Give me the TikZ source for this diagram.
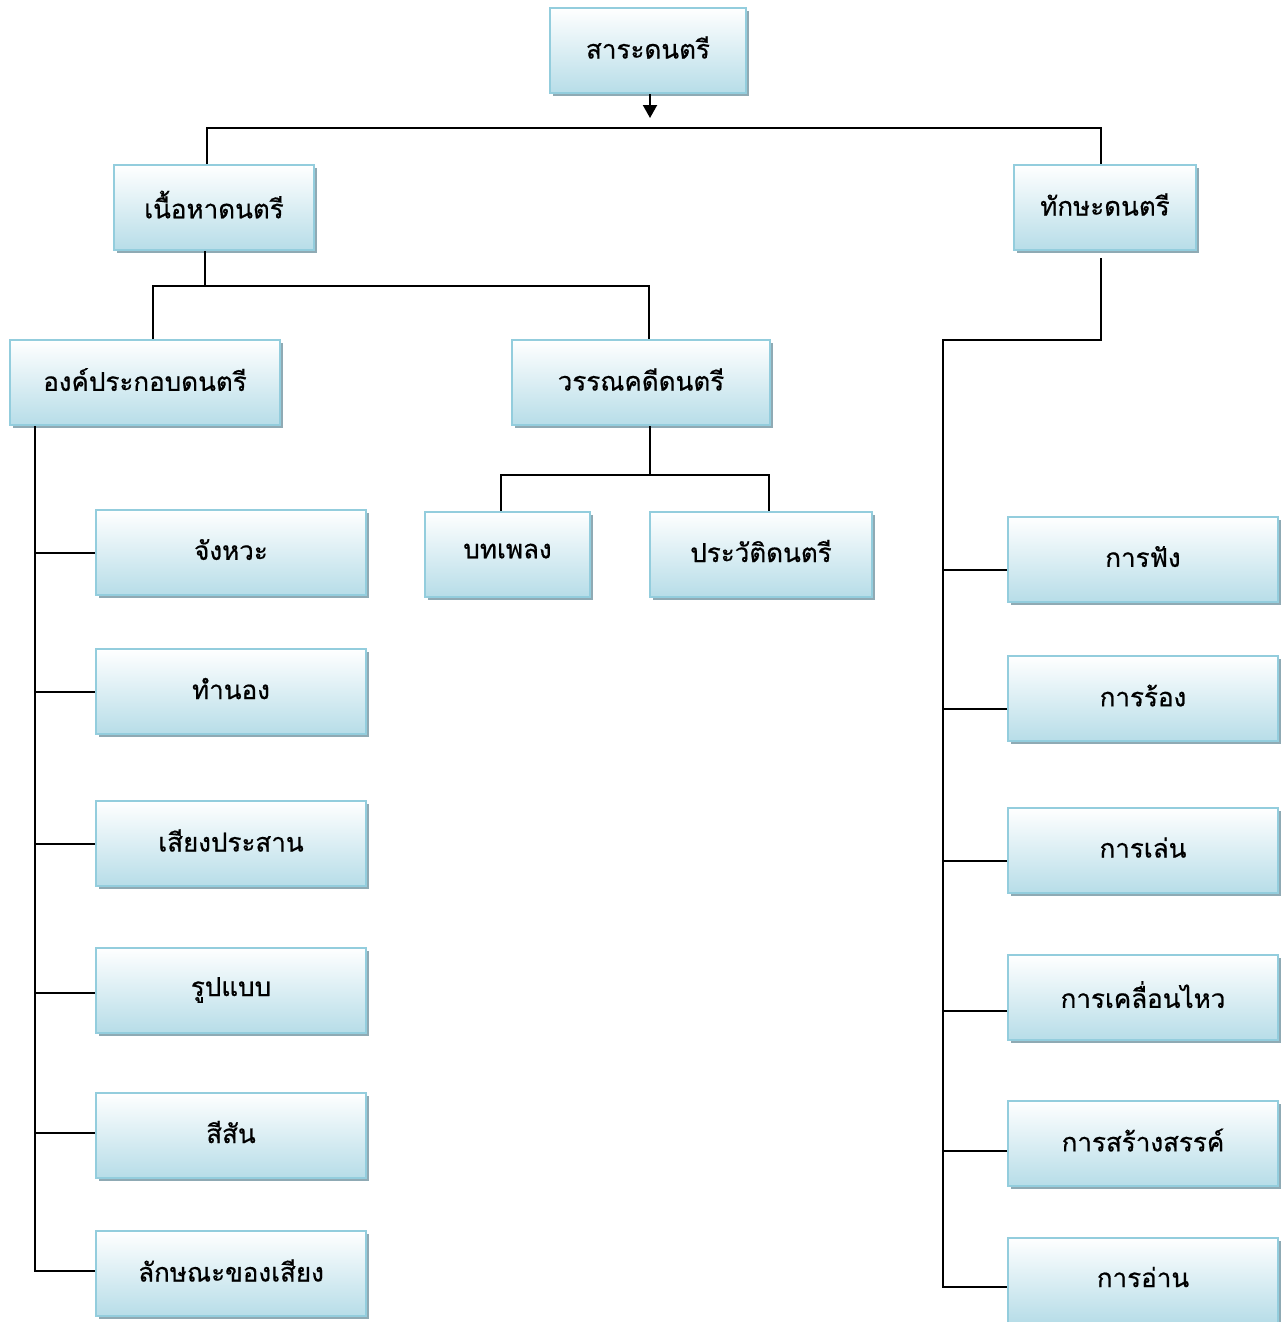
\documentclass[tikz,border=0pt]{standalone}
\usepackage{fontspec}
\newfontfamily\thaifont[Script=Thai,FakeBold=0.6]{Loma}
\usetikzlibrary{arrows.meta,shadows}
\definecolor{boxblue}{HTML}{B7DDE8}
\definecolor{boxborder}{HTML}{93CDDD}
\definecolor{shadowc}{HTML}{8FAAB4}
\tikzset{
  box/.style={draw=boxborder, line width=2pt, top color=white, bottom color=boxblue,
    minimum height=85pt, inner sep=0pt, font=\thaifont\fontsize{26}{30}\selectfont,
    drop shadow={shadow xshift=3pt, shadow yshift=-3pt, fill=shadowc, opacity=1}},
  conn/.style={line width=2pt, black},
}
\newcommand{\up}[1]{\raisebox{6pt}{#1}}
\begin{document}
\begin{tikzpicture}[x=1pt,y=-1pt]
\useasboundingbox (0,0) rectangle (1283,1322);
\fill[white] (0,0) rectangle (1283,1322);
% boxes
\node[box, minimum width=196pt] (root) at (648,50.5) {\up{สาระดนตรี}};
\node[box, minimum width=200pt] (content) at (214,207.5) {\up{เนื้อหาดนตรี}};
\node[box, minimum width=182pt] (skill) at (1105,207.5) {\up{ทักษะดนตรี}};
\node[box, minimum width=270pt] (elem) at (145,382.5) {\up{องค์ประกอบดนตรี}};
\node[box, minimum width=258pt] (lit) at (641,382.5) {\up{วรรณคดีดนตรี}};
\node[box, minimum width=165pt] (song) at (507.5,554) {\up{บทเพลง}};
\node[box, minimum width=222pt] (hist) at (761,554) {\up{ประวัติดนตรี}};
% left column
\node[box, minimum width=270pt] (l1) at (231,552.5) {\up{จังหวะ}};
\node[box, minimum width=270pt] (l2) at (231,691.5) {\up{ทำนอง}};
\node[box, minimum width=270pt] (l3) at (231,843.5) {\up{เสียงประสาน}};
\node[box, minimum width=270pt] (l4) at (231,990) {\up{รูปแบบ}};
\node[box, minimum width=270pt] (l5) at (231,1135) {\up{สีสัน}};
\node[box, minimum width=270pt] (l6) at (231,1273.5) {\up{ลักษณะของเสียง}};
% right column
\node[box, minimum width=270pt] (r1) at (1143,559.5) {\up{การฟัง}};
\node[box, minimum width=270pt] (r2) at (1143,698.5) {\up{การร้อง}};
\node[box, minimum width=270pt] (r3) at (1143,850.5) {\up{การเล่น}};
\node[box, minimum width=270pt] (r4) at (1143,997.5) {\up{การเคลื่อนไหว}};
\node[box, minimum width=270pt] (r5) at (1143,1143) {\up{การสร้างสรรค์}};
\node[box, minimum width=270pt] (r6) at (1143,1280) {\up{การอ่าน}};
% connectors
\coordinate (rootbus) at (650,128);
\draw[conn, -{Triangle[width=14pt,length=13pt]}] (root.south -| rootbus) -- ++(0,24);
\draw[conn] (content.north -| 207,0) |- (rootbus) -| (skill.north -| 1101,0);
\draw[conn] (content.south -| 205,0) -- (205,286) coordinate (cbus);
\draw[conn] (elem.north -| 153,0) |- (cbus) -| (lit.north -| 649,0);
\draw[conn] (lit.south -| 650,0) -- (650,475) coordinate (lbus);
\draw[conn] (song.north -| 501,0) |- (lbus) -| (hist.north -| 769,0);
% left trunk
\draw[conn] (elem.south -| 35,0) |- ([yshift=3pt]l6.west);
\foreach \n/\d in {l1/0,l2/0,l3/0,l4/-3,l5/2}
  \draw[conn] ([yshift=\d pt]\n.west) coordinate (s) -- (s -| 35,0);
% right trunk
\draw[conn] (1101,258) |- (943,340) coordinate (rbus) |- ([yshift=-7pt]r6.west);
\foreach \n/\d in {r1/-10,r2/-10,r3/-10,r4/-13,r5/-8}
  \draw[conn] ([yshift=\d pt]\n.west) coordinate (s) -- (s -| 943,0);
\end{tikzpicture}
\end{document}
